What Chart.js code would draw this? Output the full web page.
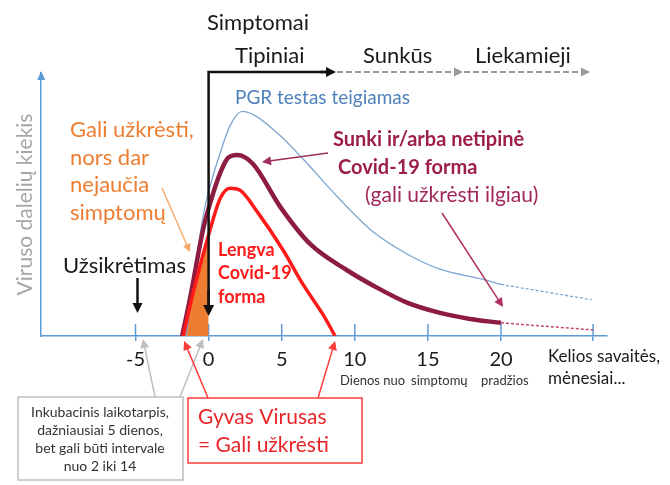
<!DOCTYPE html>
<html lang="lt">
<head>
<meta charset="utf-8">
<title>Viruso dalelių kiekis</title>
<script src="https://cdn.jsdelivr.net/npm/chart.js@4.4.1/dist/chart.umd.min.js"></script>
<style>
  html, body { margin: 0; padding: 0; background: #fff; }
  #wrap { width: 670px; height: 485px; }
</style>
</head>
<body>
<div id="wrap"><canvas id="virusChart" width="670" height="485"></canvas></div>
<script>
// x = days from symptom onset, y = relative amount of virus particles (0-100)
const pcrDays = [-1.54, -0.38, 0.1, 0.79, 1.47, 2.29, 3.18, 4.89, 6.46, 8.99, 11.25, 13.57, 15.83, 18.77, 20];
const pcrLoad = [0, 45.4, 56.9, 69.6, 80, 85.4, 83.8, 76.2, 67.3, 51.9, 39.6, 31.2, 25.4, 21.5, 19.6];
const pcrTailDays = [20, 26.2];
const pcrTailLoad = [19.6, 13.8];

const severeDays = [-1.81, -1.26, -0.38, 0.1, 0.79, 1.33, 1.95, 3.04, 4.89, 6.94, 9.47, 11.25, 13.57, 15.83, 17.88, 20];
const severeLoad = [0, 14.6, 40.4, 50.4, 61.9, 67.7, 68.8, 65.4, 49.2, 35, 25, 19.2, 12.7, 8.8, 6.5, 5];
const severeTailDays = [20, 26.3];
const severeTailLoad = [5, 2.3];

const mildDays = [-1.74, -0.92, 0.1, 0.79, 1.47, 2.15, 3.32, 5.09, 6.46, 7.83, 8.65];
const mildLoad = [0, 19.6, 40.4, 52.3, 56.2, 55.4, 47.3, 32.7, 19.6, 8.1, 0];

// infectious before symptoms (orange wedge)
const presymDays = [-1.74, -0.92, 0];
const presymLoad = [0, 19.6, 38.5];

const xTicks = [-5, 0, 5, 10, 15, 20, 26.3];
const xTickLabels = ['-5', '0', '5', '10', '15', '20', ''];

const stageLabels = ['Tipiniai', 'Sunkūs', 'Liekamieji'];

const AXIS_BLUE = '#5b9bd5';
const FONT = 'Lato';

Chart.defaults.font.family = FONT;

function toPoints(xs, ys) {
  return xs.map((x, i) => ({ x: x, y: ys[i] }));
}

function arrow(ctx, x1, y1, x2, y2, color, width, head, dash) {
  const a = Math.atan2(y2 - y1, x2 - x1);
  const h = head || 8;
  ctx.save();
  ctx.strokeStyle = color;
  ctx.fillStyle = color;
  ctx.lineWidth = width;
  if (dash) ctx.setLineDash(dash);
  ctx.beginPath();
  ctx.moveTo(x1, y1);
  ctx.lineTo(x2 - Math.cos(a) * h * 0.8, y2 - Math.sin(a) * h * 0.8);
  ctx.stroke();
  ctx.setLineDash([]);
  ctx.beginPath();
  ctx.moveTo(x2, y2);
  ctx.lineTo(x2 - h * Math.cos(a) + h * 0.5 * Math.sin(a), y2 - h * Math.sin(a) - h * 0.5 * Math.cos(a));
  ctx.lineTo(x2 - h * Math.cos(a) - h * 0.5 * Math.sin(a), y2 - h * Math.sin(a) + h * 0.5 * Math.cos(a));
  ctx.closePath();
  ctx.fill();
  ctx.restore();
}

function label(ctx, str, x, y, size, color, weight, align) {
  ctx.font = (weight || 'normal') + ' ' + size + 'px ' + FONT;
  ctx.fillStyle = color;
  ctx.textAlign = align || 'left';
  ctx.textBaseline = 'middle';
  ctx.fillText(str, x, y);
}

// tick marks that stick up above the x axis
const upperTicks = {
  id: 'upperTicks',
  beforeDatasetsDraw(chart) {
    const { ctx, scales: { x }, chartArea } = chart;
    ctx.save();
    ctx.strokeStyle = AXIS_BLUE;
    ctx.lineWidth = 1.5;
    x.ticks.forEach(t => {
      const px = x.getPixelForValue(t.value);
      ctx.beginPath();
      ctx.moveTo(px, chartArea.bottom - 12);
      ctx.lineTo(px, chartArea.bottom);
      ctx.stroke();
    });
    // arrow head on y axis
    ctx.fillStyle = AXIS_BLUE;
    ctx.beginPath();
    ctx.moveTo(chartArea.left, chartArea.top - 2);
    ctx.lineTo(chartArea.left - 4, chartArea.top + 7);
    ctx.lineTo(chartArea.left + 4, chartArea.top + 7);
    ctx.closePath();
    ctx.fill();
    ctx.restore();
  }
};

const annotations = {
  id: 'annotations',
  afterDatasetsDraw(chart) {
    const { ctx, scales: { x }, chartArea } = chart;
    const x0 = x.getPixelForValue(0);
    const base = chartArea.bottom;

    // Simptomai bracket
    ctx.save();
    ctx.strokeStyle = '#111';
    ctx.lineWidth = 2.5;
    ctx.beginPath();
    ctx.moveTo(x0, base - 26);
    ctx.lineTo(x0, 72);
    ctx.lineTo(328, 72);
    ctx.stroke();
    ctx.restore();
    arrow(ctx, x0, 290, x0, base - 20, '#111', 2.5, 11);
    arrow(ctx, 320, 72, 336, 72, '#111', 2.5, 10);
    arrow(ctx, 337, 72, 463, 72, '#999', 2, 9, [6, 3]);
    arrow(ctx, 464, 72, 590, 72, '#999', 2, 9, [6, 3]);

    label(ctx, 'Simptomai', 207, 23, 22, '#1a1a1a');
    label(ctx, stageLabels[0], 235, 56, 22, '#1a1a1a');
    label(ctx, stageLabels[1], 363, 56, 22, '#1a1a1a');
    label(ctx, stageLabels[2], 475, 56, 22, '#1a1a1a');

    label(ctx, 'PGR testas teigiamas', 235, 98, 19, '#4f81bd');

    // orange note
    ['Gali užkrėsti,', 'nors dar', 'nejaučia', 'simptomų'].forEach((s, i) => {
      label(ctx, s, 70, 130 + i * 27.7, 22, '#ed7d31');
    });
    arrow(ctx, 162, 188, 190, 252, '#f4a460', 1.3, 8);

    // infection moment
    label(ctx, 'Užsikrėtimas', 63, 266, 22, '#1a1a1a');
    const xInf = x.getPixelForValue(-5) + 2;
    arrow(ctx, xInf, 278, xInf, 313, '#111', 2.5, 10);

    // mild form
    ['Lengva', 'Covid-19', 'forma'].forEach((s, i) => {
      label(ctx, s, 218, 250 + i * 23.5, 18, '#ff1a1a', 'bold');
    });

    // severe form
    label(ctx, 'Sunki ir/arba netipinė', 333, 140, 20, '#9c1e4c', 'bold');
    label(ctx, 'Covid-19 forma', 338, 168, 20, '#9c1e4c', 'bold');
    label(ctx, '(gali užkrėsti ilgiau)', 365, 195, 21, '#a0285a');
    arrow(ctx, 328, 153, 262, 162, '#a03060', 1.5, 9);
    arrow(ctx, 442, 213, 503, 307, '#b03060', 1.5, 9);

    // x axis notes
    label(ctx, 'Dienos nuo', 340, 381, 13, '#333');
    label(ctx, 'simptomų', 411, 381, 13, '#333');
    label(ctx, 'pradžios', 481, 381, 13, '#333');
    label(ctx, 'Kelios savaitės,', 548, 357, 17, '#1a1a1a');
    label(ctx, 'mėnesiai...', 548, 379, 17, '#1a1a1a');

    // incubation box
    ctx.save();
    ctx.strokeStyle = '#bfbfbf';
    ctx.lineWidth = 1.5;
    ctx.strokeRect(18, 397, 165, 83);
    ctx.restore();
    ['Inkubacinis laikotarpis,', 'dažniausiai 5 dienos,', 'bet gali būti intervale', 'nuo 2 iki 14'].forEach((s, i) => {
      label(ctx, s, 100, 412 + i * 18.2, 14, '#333', 'normal', 'center');
    });
    arrow(ctx, 155, 397, 143, 339, '#bfbfbf', 1.5, 9);
    arrow(ctx, 180, 397, 203, 339, '#bfbfbf', 1.5, 9);

    // live virus box
    ctx.save();
    ctx.strokeStyle = '#ff3b3b';
    ctx.lineWidth = 1.5;
    ctx.strokeRect(188, 398, 174, 65);
    ctx.restore();
    label(ctx, 'Gyvas Virusas', 198, 417, 21, '#e8262a');
    label(ctx, '= Gali užkrėsti', 198, 445, 21, '#e8262a');
    const xStart = x.getPixelForValue(mildDays[0]);
    const xEnd = x.getPixelForValue(mildDays[mildDays.length - 1]);
    arrow(ctx, 208, 398, xStart + 1, base + 5, '#ff3b3b', 1.5, 9);
    arrow(ctx, 318, 398, xEnd, base + 5, '#ff3b3b', 1.5, 9);
  }
};

new Chart(document.getElementById('virusChart'), {
  type: 'line',
  data: {
    datasets: [
      {
        data: toPoints(presymDays, presymLoad),
        borderWidth: 0,
        backgroundColor: '#ed7d31',
        fill: 'origin',
        tension: 0,
        pointRadius: 0,
        order: 6
      },
      {
        data: toPoints(pcrDays, pcrLoad),
        borderColor: '#7ea6d0',
        borderWidth: 1.3,
        cubicInterpolationMode: 'monotone',
        pointRadius: 0,
        order: 5
      },
      {
        data: toPoints(pcrTailDays, pcrTailLoad),
        borderColor: '#7ea6d0',
        borderWidth: 1.3,
        borderDash: [3, 2],
        pointRadius: 0,
        order: 4
      },
      {
        data: toPoints(severeTailDays, severeTailLoad),
        borderColor: '#c04a6a',
        borderWidth: 1.5,
        borderDash: [3, 2],
        pointRadius: 0,
        order: 3
      },
      {
        data: toPoints(severeDays, severeLoad),
        borderColor: '#8c1d40',
        borderWidth: 4.5,
        cubicInterpolationMode: 'monotone',
        pointRadius: 0,
        order: 2
      },
      {
        data: toPoints(mildDays, mildLoad),
        borderColor: '#ff1a1a',
        borderWidth: 3.5,
        cubicInterpolationMode: 'monotone',
        pointRadius: 0,
        order: 1
      }
    ]
  },
  options: {
    responsive: false,
    animation: false,
    layout: { padding: { left: 13, right: 63, top: 73, bottom: 106 } },
    plugins: { legend: { display: false }, tooltip: { enabled: false } },
    scales: {
      x: {
        type: 'linear',
        min: -11.45,
        max: 27.25,
        afterBuildTicks: s => { s.ticks = xTicks.map(v => ({ value: v })); },
        ticks: {
          autoSkip: false,
          maxRotation: 0,
          padding: 7,
          color: '#1a1a1a',
          font: { size: 20 },
          callback: (v, i) => xTickLabels[i]
        },
        grid: { drawOnChartArea: false, tickLength: 5, color: AXIS_BLUE, lineWidth: 1.5 },
        border: { color: AXIS_BLUE, width: 1.5 }
      },
      y: {
        min: 0,
        max: 100,
        ticks: { display: false },
        grid: { drawOnChartArea: false, drawTicks: false },
        border: { color: AXIS_BLUE, width: 1.5 },
        title: {
          display: true,
          text: 'Viruso dalelių kiekis',
          color: '#a6a6a6',
          font: { size: 21 },
          padding: { top: 0, bottom: 3 }
        }
      }
    }
  },
  plugins: [upperTicks, annotations]
});
</script>
</body>
</html>
